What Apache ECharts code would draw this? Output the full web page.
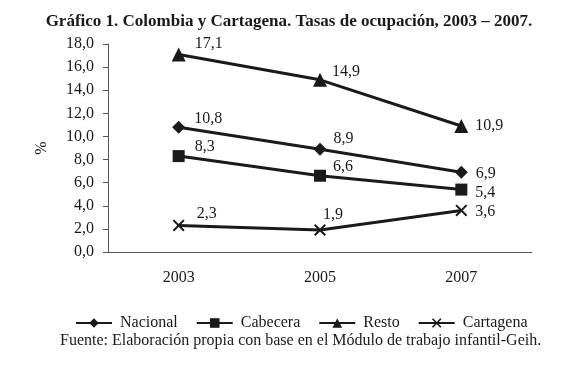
<!DOCTYPE html>
<html>
<head>
<meta charset="utf-8">
<script src="https://cdn.jsdelivr.net/npm/echarts@6/dist/echarts.min.js"></script>
<style>
html,body{margin:0;padding:0;background:#fff;}
#chart{width:580px;height:366px;}
</style>
</head>
<body>
<div id="chart"></div>
<script>
// datos
var anios = ['2003', '2005', '2007'];
var nacional = [10.8, 8.9, 6.9];
var cabecera = [8.3, 6.6, 5.4];
var resto = [17.1, 14.9, 10.9];
var cartagena = [2.3, 1.9, 3.6];

var fuente = 'Liberation Serif, DejaVu Serif, serif';
var negro = '#1a1a1a';
var cruz = 'path://M0,1.2L1.2,0L10,8.8L8.8,10Z M8.8,0L10,1.2L1.2,10L0,8.8Z';

function coma(p){
	return p.value.toFixed(1).replace('.', ',');
}
// desplazamiento de cada etiqueta
function etiq(arr, offs){
	var out = [];
	for (var i = 0; i < arr.length; i++) {
		out.push({value: arr[i], label: {offset: offs[i]}});
	}
	return out;
}
function serie(nombre, datos, simbolo, tam, offs){
	return {
		name: nombre,
		type: 'line',
		data: etiq(datos, offs),
		symbol: simbolo,
		symbolSize: tam,
		showAllSymbol: true,
		lineStyle: {color: negro, width: 3},
		itemStyle: {color: negro},
		label: {
			show: true,
			position: 'right',
			distance: 6,
			color: negro,
			fontFamily: fuente,
			fontSize: 16,
			formatter: coma
		}
	};
}

var myChart = echarts.init(document.getElementById('chart'));
var option = {
	animation: false,
	backgroundColor: '#fff',
	title: {
		text: 'Gráfico 1. Colombia y Cartagena. Tasas de ocupación, 2003 – 2007.',
		left: 284,
		textAlign: 'center',
		top: 8,
		textStyle: {fontFamily: fuente, fontSize: 17, fontWeight: 'bold', color: negro}
	},
	grid: {left: 108, right: 48, top: 44, bottom: 114},
	legend: {
		top: 310,
		left: 70,
		itemWidth: 36,
		itemHeight: 12,
		itemGap: 18,
		textStyle: {fontFamily: fuente, fontSize: 16, color: negro, padding: [0, 0, 0, 3]},
		data: ['Nacional', 'Cabecera', 'Resto', 'Cartagena']
	},
	graphic: [{
		type: 'text',
		left: 60,
		top: 333,
		style: {
			text: 'Fuente: Elaboración propia con base en el Módulo de trabajo infantil-Geih.',
			font: '16px ' + fuente,
			fill: negro
		}
	}],
	xAxis: {
		type: 'category',
		data: anios,
		boundaryGap: true,
		axisLine: {lineStyle: {color: '#555', width: 1}},
		axisTick: {show: false},
		axisLabel: {fontFamily: fuente, fontSize: 16, color: negro, margin: 18}
	},
	yAxis: {
		type: 'value',
		min: 0,
		max: 18,
		interval: 2,
		name: '%',
		nameLocation: 'middle',
		nameGap: 58,
		nameTextStyle: {fontFamily: fuente, fontSize: 16, color: negro},
		axisLine: {show: true, lineStyle: {color: '#555', width: 1}},
		axisTick: {show: true, length: 5, lineStyle: {color: '#555'}},
		splitLine: {show: false},
		axisLabel: {
			fontFamily: fuente, fontSize: 16, color: negro, margin: 14,
			formatter: function (v) { return v.toFixed(1).replace('.', ','); }
		}
	},
	series: [
		serie('Nacional', nacional, 'diamond', 13, [[3, -8], [1, -10], [2, 2]]),
		serie('Cabecera', cabecera, 'rect', 12, [[4, -9], [1, -9], [2, 3]]),
		serie('Resto', resto, 'triangle', 14, [[3, -11], [-1, -8], [1, 0]]),
		serie('Cartagena', cartagena, cruz, 12, [[6, -12], [-9, -15], [2, 1]])
	]
};
myChart.setOption(option);
</script>
</body>
</html>
